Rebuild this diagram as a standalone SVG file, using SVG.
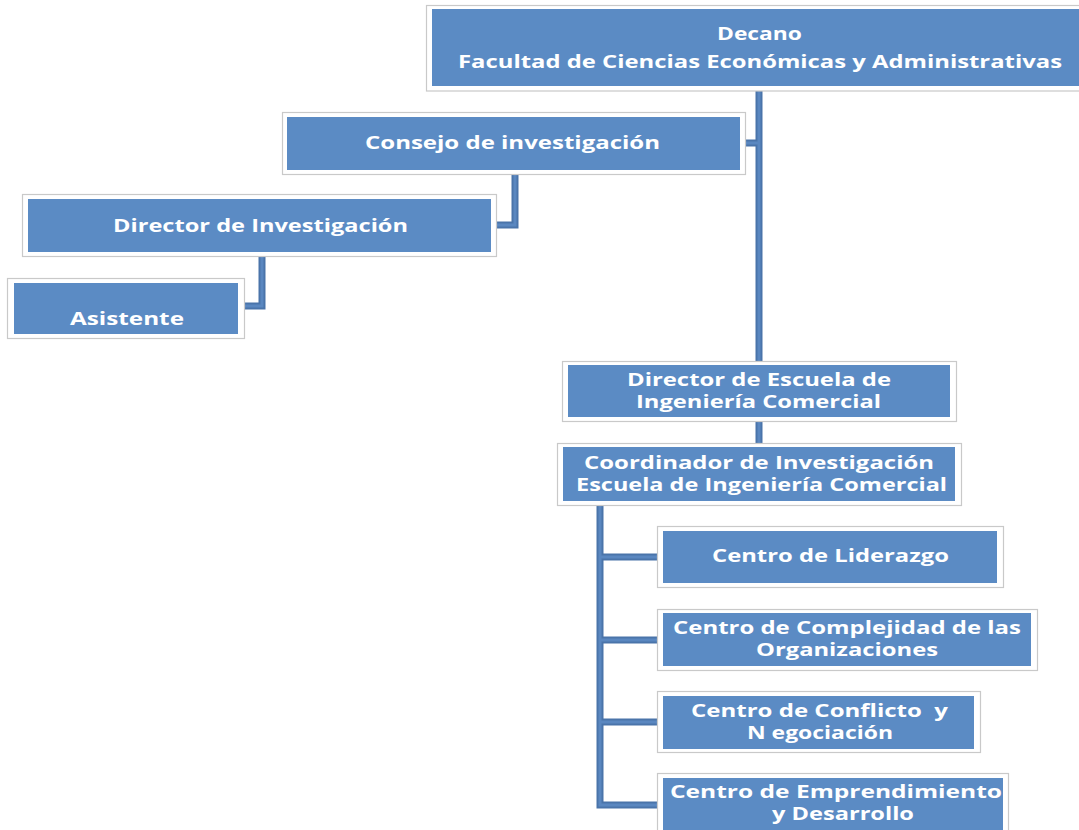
<svg xmlns="http://www.w3.org/2000/svg" width="1079" height="830" viewBox="0 0 1079 830">
<style>
.frame{fill:#ffffff;stroke:#c9c9c9;stroke-width:1.2}
.box{fill:#5b8bc4}
.t{font-family:"Open Sans","Liberation Sans",sans-serif;font-weight:bold;font-size:17px;fill:#ffffff}
.c{fill:none;stroke:#4a74aa;stroke-width:7;stroke-linejoin:miter}
.ci{fill:none;stroke:#5a87c0;stroke-width:3;stroke-linejoin:miter}
</style>
<rect width="1079" height="830" fill="#ffffff"/>
<g id="connectors">
<path class="c" d="M759,91 V361 M746,143 H759 M515,175 V225 H497 M262,257 V306 H245 M759,422 V443 M600,506 V805 H657 M600,557 H657 M600,640 H657 M600,722 H657"/>
<path class="ci" d="M759,91 V361 M746,143 H759 M515,175 V225 H497 M262,257 V306 H245 M759,422 V443 M600,506 V805 H657 M600,557 H657 M600,640 H657 M600,722 H657"/>
</g>
<g id="decano">
<rect class="frame" x="426.5" y="5.5" width="660" height="85.5"/>
<rect class="box" x="432" y="9" width="660" height="77"/>
<text class="t" x="717" y="40" textLength="85" lengthAdjust="spacingAndGlyphs">Decano</text>
<text class="t" x="458" y="68" textLength="604" lengthAdjust="spacingAndGlyphs">Facultad de Ciencias Económicas y Administrativas</text>
</g>
<g id="consejo">
<rect class="frame" x="282.5" y="112.5" width="463" height="62"/>
<rect class="box" x="287" y="117" width="453" height="53"/>
<text class="t" x="365" y="149" textLength="295" lengthAdjust="spacingAndGlyphs">Consejo de investigación</text>
</g>
<g id="director-investigacion">
<rect class="frame" x="22.5" y="194.5" width="474" height="62"/>
<rect class="box" x="28" y="199" width="463" height="53"/>
<text class="t" x="113" y="232" textLength="295" lengthAdjust="spacingAndGlyphs">Director de Investigación</text>
</g>
<g id="asistente">
<rect class="frame" x="7.5" y="278.5" width="237" height="60"/>
<rect class="box" x="14" y="283" width="224" height="51"/>
<text class="t" x="70" y="325" textLength="114" lengthAdjust="spacingAndGlyphs">Asistente</text>
</g>
<g id="director-escuela">
<rect class="frame" x="562.5" y="361.5" width="394" height="60"/>
<rect class="box" x="568" y="365" width="382" height="52"/>
<text class="t" x="627" y="386" textLength="264" lengthAdjust="spacingAndGlyphs">Director de Escuela de</text>
<text class="t" x="636" y="408" textLength="245" lengthAdjust="spacingAndGlyphs">Ingeniería Comercial</text>
</g>
<g id="coordinador">
<rect class="frame" x="557.5" y="443.5" width="404" height="62"/>
<rect class="box" x="563" y="447" width="392" height="54"/>
<text class="t" x="584" y="469" textLength="350" lengthAdjust="spacingAndGlyphs">Coordinador de Investigación</text>
<text class="t" x="576" y="491" textLength="371" lengthAdjust="spacingAndGlyphs">Escuela de Ingeniería Comercial</text>
</g>
<g id="centro-liderazgo">
<rect class="frame" x="657.5" y="526.5" width="346" height="61"/>
<rect class="box" x="663" y="531" width="334" height="52"/>
<text class="t" x="712" y="562" textLength="237" lengthAdjust="spacingAndGlyphs">Centro de Liderazgo</text>
</g>
<g id="centro-complejidad">
<rect class="frame" x="657.5" y="609.5" width="380" height="61"/>
<rect class="box" x="663" y="613" width="368" height="53"/>
<text class="t" x="673" y="634" textLength="348" lengthAdjust="spacingAndGlyphs">Centro de Complejidad de las</text>
<text class="t" x="756" y="656" textLength="182" lengthAdjust="spacingAndGlyphs">Organizaciones</text>
</g>
<g id="centro-conflicto">
<rect class="frame" x="657.5" y="691.5" width="323" height="61"/>
<rect class="box" x="663" y="696" width="311" height="53"/>
<text class="t" x="691" y="717" textLength="257" lengthAdjust="spacingAndGlyphs" xml:space="preserve">Centro de Conflicto  y</text>
<text class="t" x="747" y="739" textLength="146" lengthAdjust="spacingAndGlyphs">N egociación</text>
</g>
<g id="centro-emprendimiento">
<rect class="frame" x="657.5" y="773.5" width="351" height="70"/>
<rect class="box" x="663" y="778" width="340" height="60"/>
<text class="t" x="670" y="798" textLength="332" lengthAdjust="spacingAndGlyphs">Centro de Emprendimiento</text>
<text class="t" x="772" y="820" textLength="142" lengthAdjust="spacingAndGlyphs">y Desarrollo</text>
</g>
</svg>
